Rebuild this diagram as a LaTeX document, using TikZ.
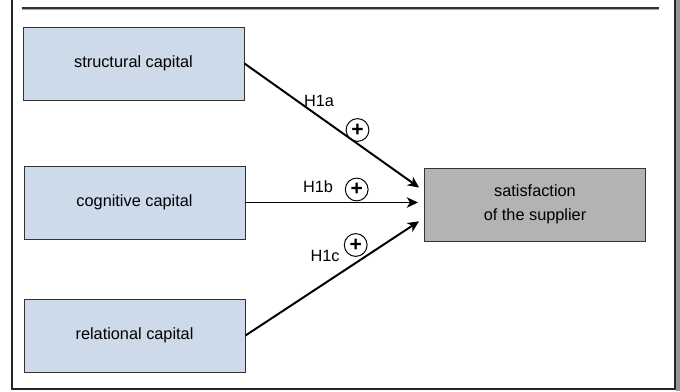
\documentclass[tikz,border=0pt]{standalone}
\usepackage{fontspec}
\setmainfont{Liberation Sans}
\usetikzlibrary{arrows.meta}
\definecolor{capblue}{RGB}{205,218,233}
\definecolor{satgrey}{RGB}{179,179,179}
\definecolor{framegrey}{RGB}{150,150,150}

\begin{document}
\begin{tikzpicture}[
	every node/.style={font=\fontsize{11.6}{17}\selectfont},
	capital/.style={draw=black!80, line width=0.7pt, fill=capblue, minimum width=5.525cm, minimum height=1.825cm, inner sep=0pt},
	outcome/.style={capital, fill=satgrey, align=center},
	hyp/.style={-{Stealth[length=2.8mm,width=2.6mm,inset=0.8mm]}, line width=1.4pt, shorten >=1.5mm},
	sign/.style={draw, circle, line width=0.7pt, minimum size=0.57cm, inner sep=0pt, font=\fontsize{15}{15}\selectfont\bfseries}]
	\useasboundingbox (0,0) rectangle (17,9.775);
	% slide frame
	\draw [framegrey, line width=2.8pt] (16.95,0) -- (16.95,9.775);
	\draw [black!85, line width=0.8pt] (0.3,9.775) -- (0.3,0.05) -- (16.875,0.05) -- (16.875,9.775);
	\draw [black!35, line width=0.8pt] (0.55,9.545) -- (16.475,9.545);
	\draw [black!80, line width=0.8pt] (0.55,9.575) -- (16.475,9.575);
	% constructs
	\node [capital] (v1) at (3.3375,8.1875) {structural capital};
	\node [capital] (v2) at (3.3625,4.7125) {cognitive capital};
	\node [capital] (v3) at (3.3625,1.3875) {relational capital};
	\node [outcome] (v4) at (13.375,4.6625) {satisfaction\\of the supplier};
	% hypotheses
	\draw [hyp] (v1.east) to ([yshift=0.3375cm]v4.west);
	\draw [hyp] (v2.east) to (v2.east -| v4.west);
	\draw [hyp] (v3.east) to ([yshift=-0.3375cm]v4.west);
	\node (h1a) at (7.975,7.25) {H1a};
	\node (h1b) at (7.95,5.1) {H1b};
	\node (h1c) at (8.125,3.375) {H1c};
	\node [sign] (s1) at (8.9375,6.525) {+};
	\node [sign] (s2) at (8.9175,5.0375) {+};
	\node [sign] (s3) at (8.8925,3.65) {+};
\end{tikzpicture}
\end{document}
